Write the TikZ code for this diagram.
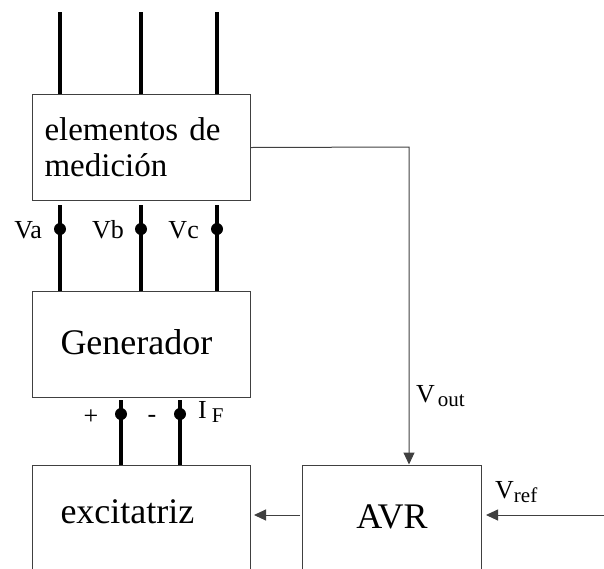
\documentclass[tikz,border=0pt]{standalone}
\usepackage{fontspec}
\setmainfont{Liberation Serif}
\usetikzlibrary{positioning, arrows.meta}

\newcommand{\lowsub}[1]{\raisebox{-4pt}{\fontsize{21}{21}\selectfont #1}}

\begin{document}
\begin{tikzpicture}[x=1pt, y=-1pt, node distance=90pt]
\tikzstyle{block} = [rectangle, draw=black!75, line width=1pt,
    minimum width=218pt, inner ysep=0pt, font=\fontsize{36}{36}\selectfont]
\tikzstyle{wire} = [draw, line width=3.5pt]
\tikzstyle{line} = [draw=black!75, line width=1pt, -{Triangle[length=12pt, width=11pt]}]
\tikzstyle{dot} = [circle, fill, inner sep=0pt, minimum size=12pt]
\tikzstyle{lbl} = [font=\fontsize{26}{26}\selectfont, inner sep=0pt]

\useasboundingbox (0,0) rectangle (604,568);

\node (med) [block, anchor=north west, minimum height=106pt, inner xsep=12pt,
    text width=194pt, align=left, font=\fontsize{33}{36}\selectfont] at (32,94)
    {elementos de\\medición};
\node (gen) [block, below=of med, inner xsep=28pt, text width=162pt, align=left,
    text height=63pt, text depth=43pt] {Generador};
\node (exc) [block, below=67pt of gen, inner xsep=28pt, text width=162pt, align=left,
    text height=58pt, text depth=62pt] {excitatriz};
\node (avr) [block, right=51pt of exc, minimum width=179pt,
    text height=63pt, text depth=58pt] {AVR};

% fases
\coordinate (ta) at (60,12);
\coordinate (tb) at (141,12);
\coordinate (tc) at (217,12);
\path[wire] (ta) -- (ta |- med.north);
\path[wire] (tb) -- (tb |- med.north);
\path[wire] (tc) -- (tc |- med.north);

\node (va) [dot] at (60,229) {};
\node (vb) [dot] at (141,229) {};
\node (vc) [dot] at (217,229) {};
\path[wire, shorten <=4pt] (va |- med.south) -- (va |- gen.north);
\path[wire, shorten <=4pt] (vb |- med.south) -- (vb |- gen.north);
\path[wire, shorten <=4pt] (vc |- med.south) -- (vc |- gen.north);
\node (lva) [lbl, anchor=base east] at (42,238) {Va};
\node (lvb) [lbl, anchor=base east] at (124,238) {Vb};
\node (lvc) [lbl, anchor=base east] at (199,238) {Vc};

% campo
\node (fp) [dot] at (121,414) {};
\node (fn) [dot] at (180,414) {};
\path[wire, shorten <=2pt] (fp |- gen.south) -- (fp |- exc.north);
\path[wire, shorten <=2pt] (fn |- gen.south) -- (fn |- exc.north);
\node (lfp) [lbl] at (91,417) {+};
\node (lfn) [lbl] at (152,419) {-};
\node (lif) [lbl, anchor=base west] at (198,418) {I\hspace{5pt}\lowsub{F}};

% lazo de control
\coordinate (vo) at (409,147);
\coordinate (vr) at (604,515);
\path[line] (med.east) -- (vo) -- (vo |- avr.north);
\path[line, shorten >=4pt] (vr) -- (vr -| avr.east);
\path[line, shorten <=2pt, shorten >=3pt] (avr.west |- vr) -- (exc.east |- vr);
\node (lvo) [lbl, anchor=base west] at (416,402) {V\hspace{3pt}\lowsub{out}};
\node (lvr) [lbl, anchor=base west] at (495,498) {V\lowsub{ref}};
\end{tikzpicture}
\end{document}
